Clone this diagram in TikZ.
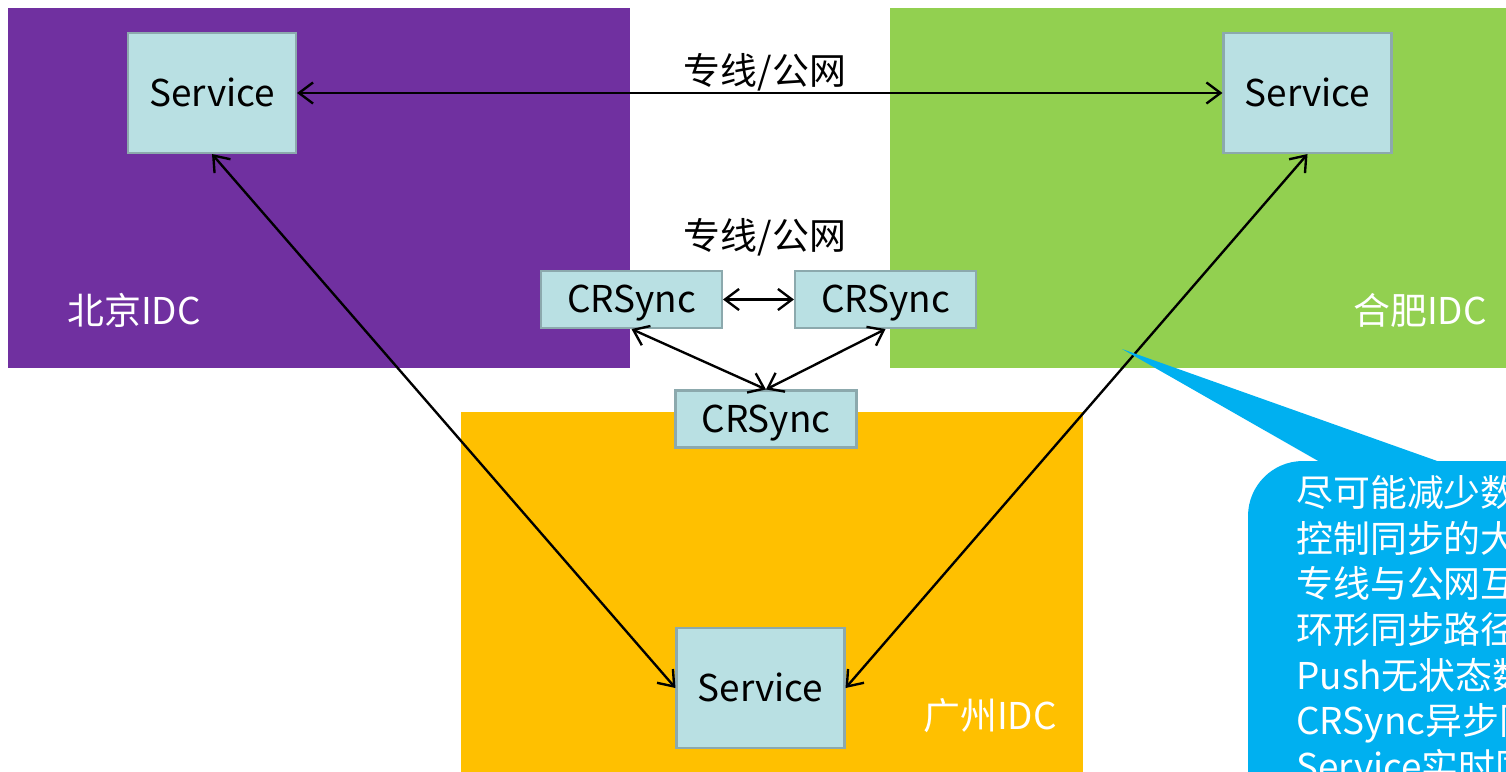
\documentclass[tikz,border=0pt]{standalone}
\usepackage{fontspec}
\setmainfont{Noto Sans CJK SC}
\usetikzlibrary{arrows.meta}
\definecolor{bjpurple}{HTML}{7030A0}
\definecolor{hfgreen}{HTML}{92D050}
\definecolor{gzorange}{HTML}{FFC000}
\definecolor{boxfill}{HTML}{B9E0E3}
\definecolor{boxline}{HTML}{8CA9AD}
\definecolor{callout}{HTML}{00B0F0}

\begin{document}
\begin{tikzpicture}[x=0.02cm,y=-0.02cm,font=\fontsize{21}{26}\selectfont,
  box/.style={draw=boxline,fill=boxfill,line width=1.2pt,inner sep=0pt,text height=15.2pt,text depth=0pt},
  svc/.style={box,minimum width=3.36cm,minimum height=2.4cm},
  sync/.style={box,minimum width=3.62cm,minimum height=1.14cm},
  idc/.style={text=white},
  link/.style={<->,line width=1.35pt,>={Straight Barb[length=8pt,width=12pt]}}]
\clip (0,0) rectangle (1506,771);
\fill[bjpurple] (8,8) rectangle (630,368);
\fill[hfgreen] (890,8) rectangle (1510,368);
\fill[gzorange] (461,412) rectangle (1083,780);

\node (bj) [idc] at (134,310) {北京IDC};
\node (hf) [idc] at (1420,310) {合肥IDC};
\node (gz) [idc] at (990,716) {广州IDC};

\node (bjsvc) [svc] at (212,93) {Service};
\node (hfsvc) [svc] at (1307.5,93) {Service};
\node (gzsvc) [svc] at (760.5,688) {Service};
\node (bjsync) [sync] at (631.5,299.5) {CRSync};
\node (hfsync) [sync] at (885.5,299.5) {CRSync};
\node (gzsync) [sync] at (766,419) {CRSync};

\node (net1) at (765,72) {专线/公网};
\node (net2) at (765,237) {专线/公网};

\draw[link] (bjsvc) -- (hfsvc);
\draw[link] (bjsvc.south) -- (gzsvc.west);
\draw[link] (hfsvc.south) -- (gzsvc.east);
\draw[link] (bjsync) -- (hfsync);
\draw[link] (bjsync.south) -- (gzsync.north);
\draw[link] (hfsync.south) -- (gzsync.north);

\fill[callout] (1122,349) -- (1440,462) -- (1320,462) -- cycle;
\fill[callout,rounded corners=1.1cm] (1248,461) rectangle (1600,900);
\node (note) [text=white,align=left,anchor=north west,inner sep=0pt] at (1296,475)
  {尽可能减少数\\控制同步的大\\专线与公网互\\环形同步路径\\Push无状态数\\CRSync异步同\\Service实时同};
\end{tikzpicture}
\end{document}
